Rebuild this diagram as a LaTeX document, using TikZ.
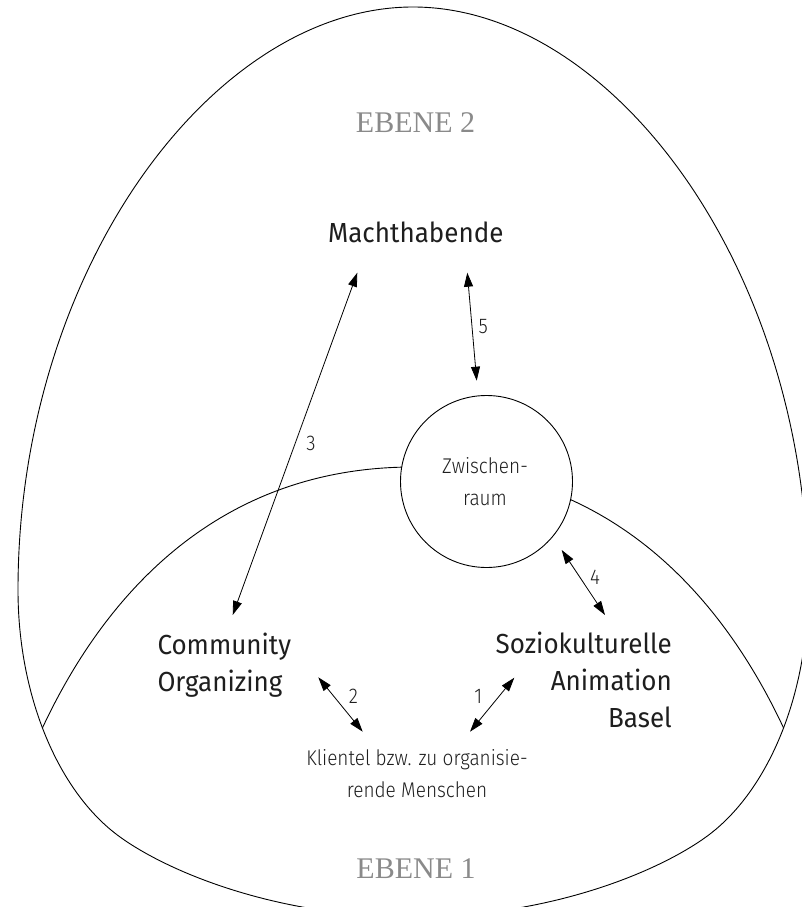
\documentclass[tikz,border=0pt]{standalone}
\usepackage{graphicx}
\usepackage{fontspec}
\setmainfont{Fira Sans}
\newfontfamily\lightfont{Fira Sans}[UprightFont={* Light}]
\newfontfamily\levelfont{Liberation Serif}
\usetikzlibrary{arrows.meta}
\definecolor{leveltext}{HTML}{8A8A8A}
\definecolor{maintext}{HTML}{1E1E1E}
\newcommand\tallbig[1]{\scalebox{1}[1.06]{#1}}
\newcommand\tallsmall[1]{\scalebox{1}[1.12]{#1}}
\begin{document}
\begin{tikzpicture}[x=1pt,y=-1pt,
  outline/.style={line width=0.9pt, black},
  dbl/.style={line width=0.8pt, black, {Triangle[length=14pt,width=9pt]}-{Triangle[length=14pt,width=9pt]}},
  bigtext/.style={font=\fontsize{26}{37}\selectfont, text=maintext, inner sep=0pt},
  smalltext/.style={font=\lightfont\fontsize{19}{32}\selectfont, text=maintext, inner sep=0pt},
  numtext/.style={font=\lightfont\fontsize{19}{24}\selectfont, text=maintext, inner sep=0pt},
  leveltextstyle/.style={font=\levelfont\fontsize{30}{30}\selectfont, text=leveltext, inner sep=0pt}
]
\clip (0,0) rectangle (802,907);
% inner dome (Ebene 1 boundary), clipped to the egg
\begin{scope}
\clip (413,7) .. controls (613,7) and (808,270) .. (808,590)
  .. controls (808,690) and (772,782.5) .. (715,830)
  .. controls (673,865) and (560,917) .. (413,917)
  .. controls (266,917) and (153,865) .. (111,830)
  .. controls (54,782.5) and (18,690) .. (18,590)
  .. controls (18,270) and (213,7) .. (413,7) -- cycle;
\draw[outline] (35,744) -- (41,731) .. controls (101,601) and (213,467) .. (413,467)
  .. controls (613,467) and (725,601) .. (785,731) -- (791,744);
\end{scope}
% outer egg (Ebene 2 + Ebene 1)
\draw[outline] (413,7) .. controls (613,7) and (808,270) .. (808,590)
  .. controls (808,690) and (772,782.5) .. (715,830)
  .. controls (673,865) and (560,917) .. (413,917)
  .. controls (266,917) and (153,865) .. (111,830)
  .. controls (54,782.5) and (18,690) .. (18,590)
  .. controls (18,270) and (213,7) .. (413,7) -- cycle;
% Zwischenraum circle
\node[circle, draw, outline, fill=white, minimum size=172pt, inner sep=0pt] (zw) at (486.5,481.5) {};
\node[smalltext, anchor=base] (zw1) at (485,473) {\tallsmall{Zwischen-}};
\node[smalltext, anchor=base] (zw2) at (485,505) {\tallsmall{raum}};
% texts
\node[leveltextstyle, anchor=base] (e2) at (415.5,132) {EBENE 2};
\node[leveltextstyle, anchor=base] (e1) at (416,878) {EBENE 1};
\node[bigtext, anchor=base] (macht) at (415.8,242.7) {\tallbig{Machthabende}};
\node[bigtext, anchor=base west] (co1) at (157.3,654) {\tallbig{Community}};
\node[bigtext, anchor=base west] (co2) at (157.3,691) {\tallbig{Organizing}};
\node[bigtext, anchor=base east] (sa1) at (672,653) {\tallbig{Soziokulturelle}};
\node[bigtext, anchor=base east] (sa2) at (672,690.5) {\tallbig{Animation}};
\node[bigtext, anchor=base east] (sa3) at (672,727.5) {\tallbig{Basel}};
\node[smalltext, anchor=base] (kl1) at (417,765) {\tallsmall{Klientel bzw. zu organisie-}};
\node[smalltext, anchor=base] (kl2) at (417,797) {\tallsmall{rende Menschen}};
% arrow ends
\coordinate (a3s) at (357.3,272.7);
\coordinate (a3e) at (232.7,615);
\coordinate (a5s) at (467.3,272.7);
\coordinate (a5e) at (476.7,380.7);
\coordinate (a4s) at (561.7,550);
\coordinate (a4e) at (605,615);
\coordinate (a2s) at (318.3,677.3);
\coordinate (a2e) at (362.7,731.7);
\coordinate (a1s) at (514.3,677.7);
\coordinate (a1e) at (470,731.7);
\draw[dbl] (a3s) -- (a3e);
\draw[dbl] (a5s) -- (a5e);
\draw[dbl] (a4s) -- (a4e);
\draw[dbl] (a2s) -- (a2e);
\draw[dbl] (a1s) -- (a1e);
% arrow labels
\node[numtext] (n5) at (483.3,326.7) {\tallsmall{5}};
\node[numtext] (n3) at (311,443) {\tallsmall{3}};
\node[numtext] (n4) at (595,577) {\tallsmall{4}};
\node[numtext] (n2) at (353.3,696.7) {\tallsmall{2}};
\node[numtext] (n1) at (478.3,696.7) {\tallsmall{1}};
\end{tikzpicture}
\end{document}
